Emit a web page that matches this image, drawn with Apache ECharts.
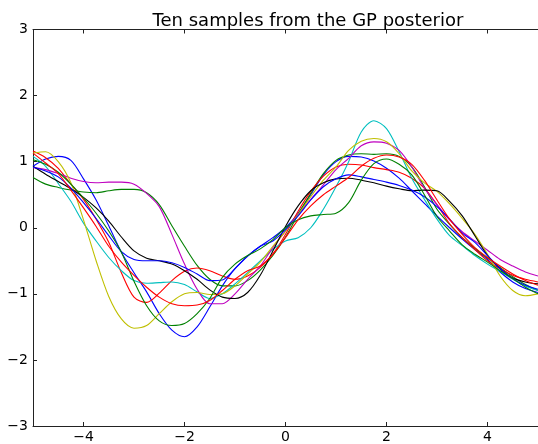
<!DOCTYPE html>
<html><head><meta charset="utf-8">
<script src="https://cdn.jsdelivr.net/npm/echarts@6/dist/echarts.min.js"></script>
<style>html,body{margin:0;padding:0;background:#fff}#c{width:538px;height:444px}</style>
</head><body><div id="c"></div>
<script>
const xs = [-5,-4.75,-4.5,-4.25,-4,-3.75,-3.5,-3.25,-3,-2.75,-2.5,-2.25,-2,-1.75,-1.5,-1.25,-1,-0.75,-0.5,-0.25,0,0.25,0.5,0.75,1,1.25,1.5,1.75,2,2.25,2.5,2.75,3,3.25,3.5,3.75,4,4.25,4.5,4.75,5];
const blueA = [0.93,1.04,1.08,1.02,0.74,0.42,0.03,-0.37,-0.68,-0.97,-1.3,-1.55,-1.65,-1.5,-1.2,-0.88,-0.62,-0.43,-0.28,-0.15,0.0,0.22,0.5,0.8,1.0,1.08,1.07,1.01,0.9,0.75,0.56,0.37,0.18,0.0,-0.17,-0.33,-0.48,-0.67,-0.82,-0.92,-0.98];
const greenA = [0.76,0.66,0.61,0.57,0.54,0.53,0.56,0.58,0.58,0.53,0.35,0.03,-0.28,-0.57,-0.78,-0.88,-0.88,-0.8,-0.64,-0.42,-0.14,0.2,0.52,0.82,1.02,1.1,1.12,1.11,1.12,1.08,0.92,0.62,0.28,0.05,-0.15,-0.31,-0.46,-0.6,-0.74,-0.86,-0.95];
const redA = [1.16,1.06,0.9,0.66,0.43,0.13,-0.22,-0.68,-1.05,-1.13,-0.99,-0.8,-0.66,-0.61,-0.65,-0.73,-0.78,-0.73,-0.6,-0.4,-0.1,0.25,0.55,0.78,0.92,0.96,0.95,0.91,0.88,0.84,0.75,0.6,0.35,0.06,-0.15,-0.33,-0.5,-0.62,-0.72,-0.78,-0.82];
const cyan = [1.08,0.93,0.67,0.4,0.07,-0.2,-0.45,-0.65,-0.8,-0.84,-0.83,-0.82,-0.86,-0.97,-1.07,-1.0,-0.85,-0.68,-0.5,-0.33,-0.2,-0.15,0.0,0.28,0.62,1.0,1.45,1.62,1.5,1.15,0.75,0.43,0.13,-0.12,-0.27,-0.42,-0.55,-0.66,-0.78,-0.88,-0.95];
const magenta = [0.91,0.88,0.82,0.75,0.7,0.68,0.69,0.69,0.66,0.52,0.32,-0.1,-0.55,-0.93,-1.15,-1.15,-1.0,-0.78,-0.58,-0.3,-0.05,0.2,0.43,0.65,0.88,1.05,1.24,1.3,1.28,1.17,0.92,0.6,0.35,0.12,-0.06,-0.2,-0.34,-0.48,-0.58,-0.67,-0.73];
const yellow = [1.13,1.15,1.0,0.68,0.12,-0.5,-1.04,-1.38,-1.52,-1.48,-1.3,-1.12,-1.0,-0.98,-1.01,-1.0,-0.88,-0.7,-0.52,-0.28,-0.05,0.2,0.47,0.72,0.92,1.17,1.31,1.35,1.3,1.12,0.86,0.68,0.55,0.36,0.14,-0.1,-0.4,-0.73,-0.95,-1.03,-1.0];
const black = [0.93,0.81,0.7,0.59,0.46,0.3,0.1,-0.14,-0.35,-0.46,-0.5,-0.55,-0.65,-0.78,-0.94,-1.05,-1.07,-0.98,-0.72,-0.35,0.02,0.33,0.56,0.68,0.74,0.75,0.72,0.68,0.63,0.59,0.56,0.57,0.56,0.4,0.18,-0.12,-0.42,-0.62,-0.76,-0.82,-0.85];
const blueB = [0.92,0.86,0.77,0.6,0.38,0.14,-0.12,-0.36,-0.48,-0.5,-0.5,-0.53,-0.6,-0.7,-0.8,-0.79,-0.62,-0.43,-0.28,-0.2,-0.03,0.18,0.42,0.62,0.74,0.8,0.77,0.73,0.69,0.64,0.57,0.47,0.32,0.13,-0.08,-0.22,-0.42,-0.62,-0.77,-0.87,-0.93];
const greenB = [1.03,0.96,0.84,0.66,0.45,0.22,-0.05,-0.37,-0.81,-1.18,-1.41,-1.48,-1.45,-1.3,-1.07,-0.75,-0.55,-0.42,-0.32,-0.18,0.0,0.12,0.18,0.2,0.22,0.38,0.72,0.97,1.04,0.96,0.8,0.5,0.17,-0.05,-0.26,-0.4,-0.52,-0.65,-0.77,-0.9,-1.0];
const redB = [1.13,0.98,0.82,0.57,0.3,0.02,-0.28,-0.52,-0.72,-0.9,-1.05,-1.15,-1.18,-1.17,-1.1,-0.95,-0.78,-0.65,-0.58,-0.4,-0.15,0.12,0.33,0.5,0.63,0.76,0.93,1.05,1.1,1.07,0.96,0.72,0.42,0.13,-0.1,-0.3,-0.45,-0.58,-0.7,-0.8,-0.87];
const samples = [blueA, greenA, redA, cyan, magenta, yellow, black, blueB, greenB, redB];
const colors = ['#0000ff','#008000','#ff0000','#00bfbf','#bf00bf','#bfbf00','#000000','#0000ff','#008000','#ff0000'];
const xTicks = [-4,-2,0,2,4];
const yTicks = [-3,-2,-1,0,1,2,3];
const titleText = 'Ten samples from the GP posterior';

const fmt = v => String(v).replace('-', '\u2212');
const chart = echarts.init(document.getElementById('c'), null, {renderer:'canvas'});
const axisLineStyle = {color:'#222', width:1};
chart.setOption({
  animation:false,
  backgroundColor:'#fff',
  title:{text:titleText, left:303, top:7, textAlign:'center',
    textStyle:{fontFamily:'DejaVu Sans', fontSize:18, fontWeight:'normal', color:'#000'}},
  grid:{left:33, top:29.5, width:516, height:399, containLabel:false},
  xAxis:[
    {type:'value', min:-5, max:5, position:'bottom',
     axisLine:{show:true, onZero:false, lineStyle:axisLineStyle},
     axisTick:{show:true, inside:true, length:4, customValues:xTicks, lineStyle:axisLineStyle},
     axisLabel:{show:true, customValues:xTicks, formatter:fmt, margin:4,
       fontFamily:'DejaVu Sans', fontSize:14, color:'#000'},
     splitLine:{show:false}},
    {type:'value', min:-5, max:5, position:'top',
     axisLine:{show:true, onZero:false, lineStyle:axisLineStyle},
     axisTick:{show:true, inside:true, length:4, customValues:xTicks, lineStyle:axisLineStyle},
     axisLabel:{show:false}, splitLine:{show:false}}
  ],
  yAxis:[{type:'value', min:-3, max:3, interval:1, position:'left',
     axisLine:{show:true, onZero:false, lineStyle:axisLineStyle},
     axisTick:{show:true, inside:true, length:4, customValues:yTicks, lineStyle:axisLineStyle},
     axisLabel:{show:true, customValues:yTicks, formatter:fmt, margin:5, fontFamily:'DejaVu Sans', fontSize:14, color:'#000'},
     splitLine:{show:false}}],
  series: samples.map((ys,i)=>({
    type:'line', xAxisIndex:0, yAxisIndex:0, showSymbol:false, smooth:0.3,
    data: xs.map((x,j)=>[x, ys[j]]),
    lineStyle:{color:colors[i], width:1.1},
    itemStyle:{color:colors[i]}, z:2+i
  }))
});
</script></body></html>
